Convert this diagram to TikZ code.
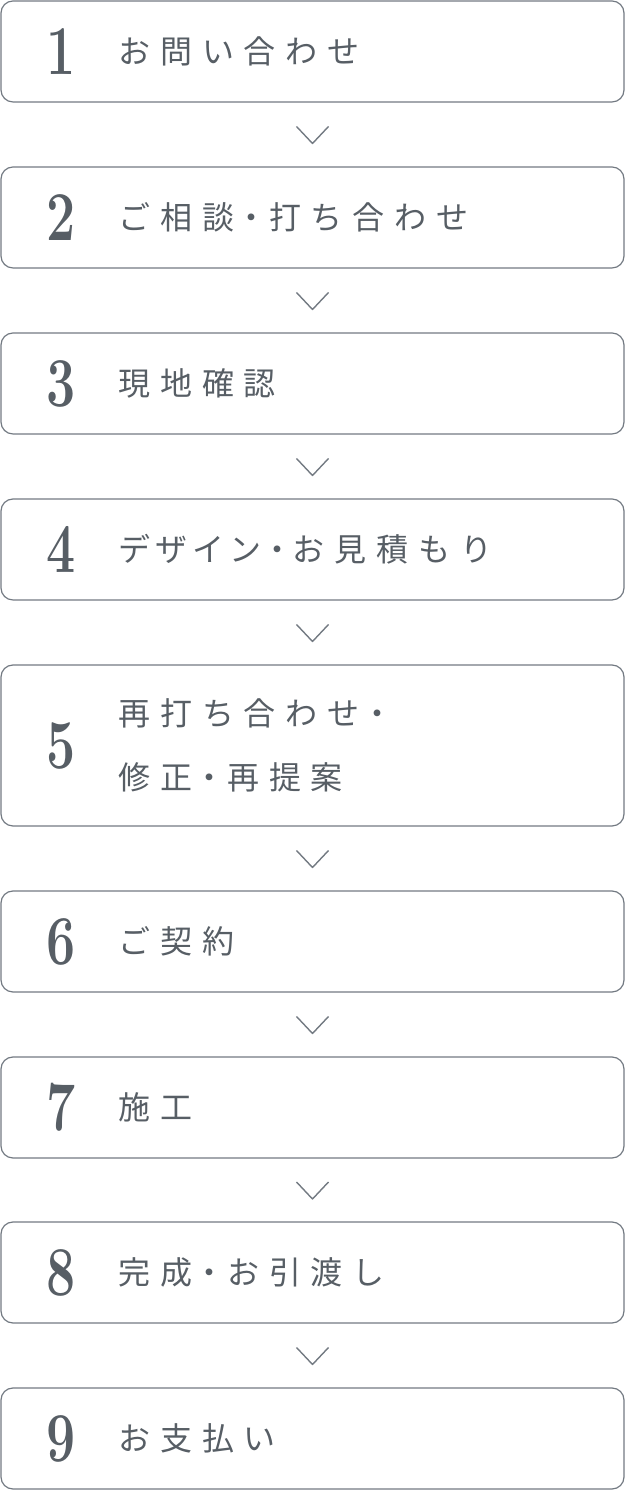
\documentclass[tikz,border=0pt]{standalone}
\usepackage{fontspec}
\newfontfamily\jpfont[LetterSpace=31]{Noto Sans CJK JP}
\usetikzlibrary{positioning}
\definecolor{flowgray}{HTML}{575E65}
\definecolor{linegray}{HTML}{737A82}
\newcommand{\nakaguro}{\kern1.5bp・\kern1.5bp}
\newcommand{\stepdigit}[1]{\scalebox{0.74}[1]{\bfseries #1}}

\begin{document}
\begin{tikzpicture}[line join=round,
  stepbox/.style={draw=linegray,line width=1.2bp,rounded corners=12bp,minimum width=623bp,minimum height=101bp,inner sep=0pt},
  stepnum/.style={text=flowgray,font=\fontsize{70bp}{70bp}\selectfont,inner sep=0pt},
  steptext/.style={text=flowgray,font=\jpfont\fontsize{32bp}{64bp}\selectfont,inner sep=0pt,align=left,anchor=west},
  chevron/.style={draw=linegray,line width=1.4bp}]
\useasboundingbox (0bp,0bp) rectangle (626bp,1490bp);
%%
\node (step_1) at (312.5bp,1438.5bp) [stepbox] {};
  \node (step_2) at (312.5bp,1272.5bp) [stepbox] {};
  \node (step_3) at (312.5bp,1106.5bp) [stepbox] {};
  \node (step_4) at (312.5bp,940.5bp) [stepbox] {};
  \node (step_5) at (312.5bp,744.5bp) [stepbox,minimum height=161bp] {};
  \node (step_6) at (312.5bp,548.5bp) [stepbox] {};
  \node (step_7) at (312.5bp,382.5bp) [stepbox] {};
  \node (step_8) at (312.5bp,217.5bp) [stepbox] {};
  \node (step_9) at (312.5bp,51.5bp) [stepbox] {};
%%
\node (num_1) at (61bp,1438.5bp) [stepnum] {\stepdigit{1}};
  \node (num_2) at (61bp,1272.5bp) [stepnum] {\stepdigit{2}};
  \node (num_3) at (61bp,1106.5bp) [stepnum] {\stepdigit{3}};
  \node (num_4) at (61bp,940.5bp) [stepnum] {\stepdigit{4}};
  \node (num_5) at (61bp,744.5bp) [stepnum] {\stepdigit{5}};
  \node (num_6) at (61bp,548.5bp) [stepnum] {\stepdigit{6}};
  \node (num_7) at (61bp,382.5bp) [stepnum] {\stepdigit{7}};
  \node (num_8) at (61bp,217.5bp) [stepnum] {\stepdigit{8}};
  \node (num_9) at (61bp,51.5bp) [stepnum] {\stepdigit{9}};
%%
\node (label_1) at (118bp,1438.5bp) [steptext] {お問い合わせ};
  \node (label_2) at (118bp,1272.5bp) [steptext] {ご相談\nakaguro 打ち合わせ};
  \node (label_3) at (118bp,1106.5bp) [steptext] {現地確認};
  \node (label_4) at (118bp,940.5bp) [steptext] {{\addfontfeature{LetterSpace=16}デザイン}\kern-0.5bp・\kern-0.5bp お見積もり};
  \node (label_5) at (118bp,744.5bp) [steptext] {再打ち合わせ\nakaguro\\修正\nakaguro 再提案};
  \node (label_6) at (118bp,548.5bp) [steptext] {ご契約};
  \node (label_7) at (118bp,382.5bp) [steptext] {施工};
  \node (label_8) at (118bp,217.5bp) [steptext] {完成\nakaguro お引渡し};
  \node (label_9) at (118bp,51.5bp) [steptext] {お支払い};
%%
\coordinate (gap_1) at (312.5bp,1355.5bp);
  \coordinate (gap_2) at (312.5bp,1189.5bp);
  \coordinate (gap_3) at (312.5bp,1023.5bp);
  \coordinate (gap_4) at (312.5bp,857.5bp);
  \coordinate (gap_5) at (312.5bp,631.5bp);
  \coordinate (gap_6) at (312.5bp,465.5bp);
  \coordinate (gap_7) at (312.5bp,300bp);
  \coordinate (gap_8) at (312.5bp,134.5bp);
  \draw [chevron] ([xshift=-16bp,yshift=8bp]gap_1) -- ([yshift=-9bp]gap_1) -- ([xshift=16bp,yshift=8bp]gap_1);
  \draw [chevron] ([xshift=-16bp,yshift=8bp]gap_2) -- ([yshift=-9bp]gap_2) -- ([xshift=16bp,yshift=8bp]gap_2);
  \draw [chevron] ([xshift=-16bp,yshift=8bp]gap_3) -- ([yshift=-9bp]gap_3) -- ([xshift=16bp,yshift=8bp]gap_3);
  \draw [chevron] ([xshift=-16bp,yshift=8bp]gap_4) -- ([yshift=-9bp]gap_4) -- ([xshift=16bp,yshift=8bp]gap_4);
  \draw [chevron] ([xshift=-16bp,yshift=8bp]gap_5) -- ([yshift=-9bp]gap_5) -- ([xshift=16bp,yshift=8bp]gap_5);
  \draw [chevron] ([xshift=-16bp,yshift=8bp]gap_6) -- ([yshift=-9bp]gap_6) -- ([xshift=16bp,yshift=8bp]gap_6);
  \draw [chevron] ([xshift=-16bp,yshift=8bp]gap_7) -- ([yshift=-9bp]gap_7) -- ([xshift=16bp,yshift=8bp]gap_7);
  \draw [chevron] ([xshift=-16bp,yshift=8bp]gap_8) -- ([yshift=-9bp]gap_8) -- ([xshift=16bp,yshift=8bp]gap_8);
%
\end{tikzpicture}
\end{document}
